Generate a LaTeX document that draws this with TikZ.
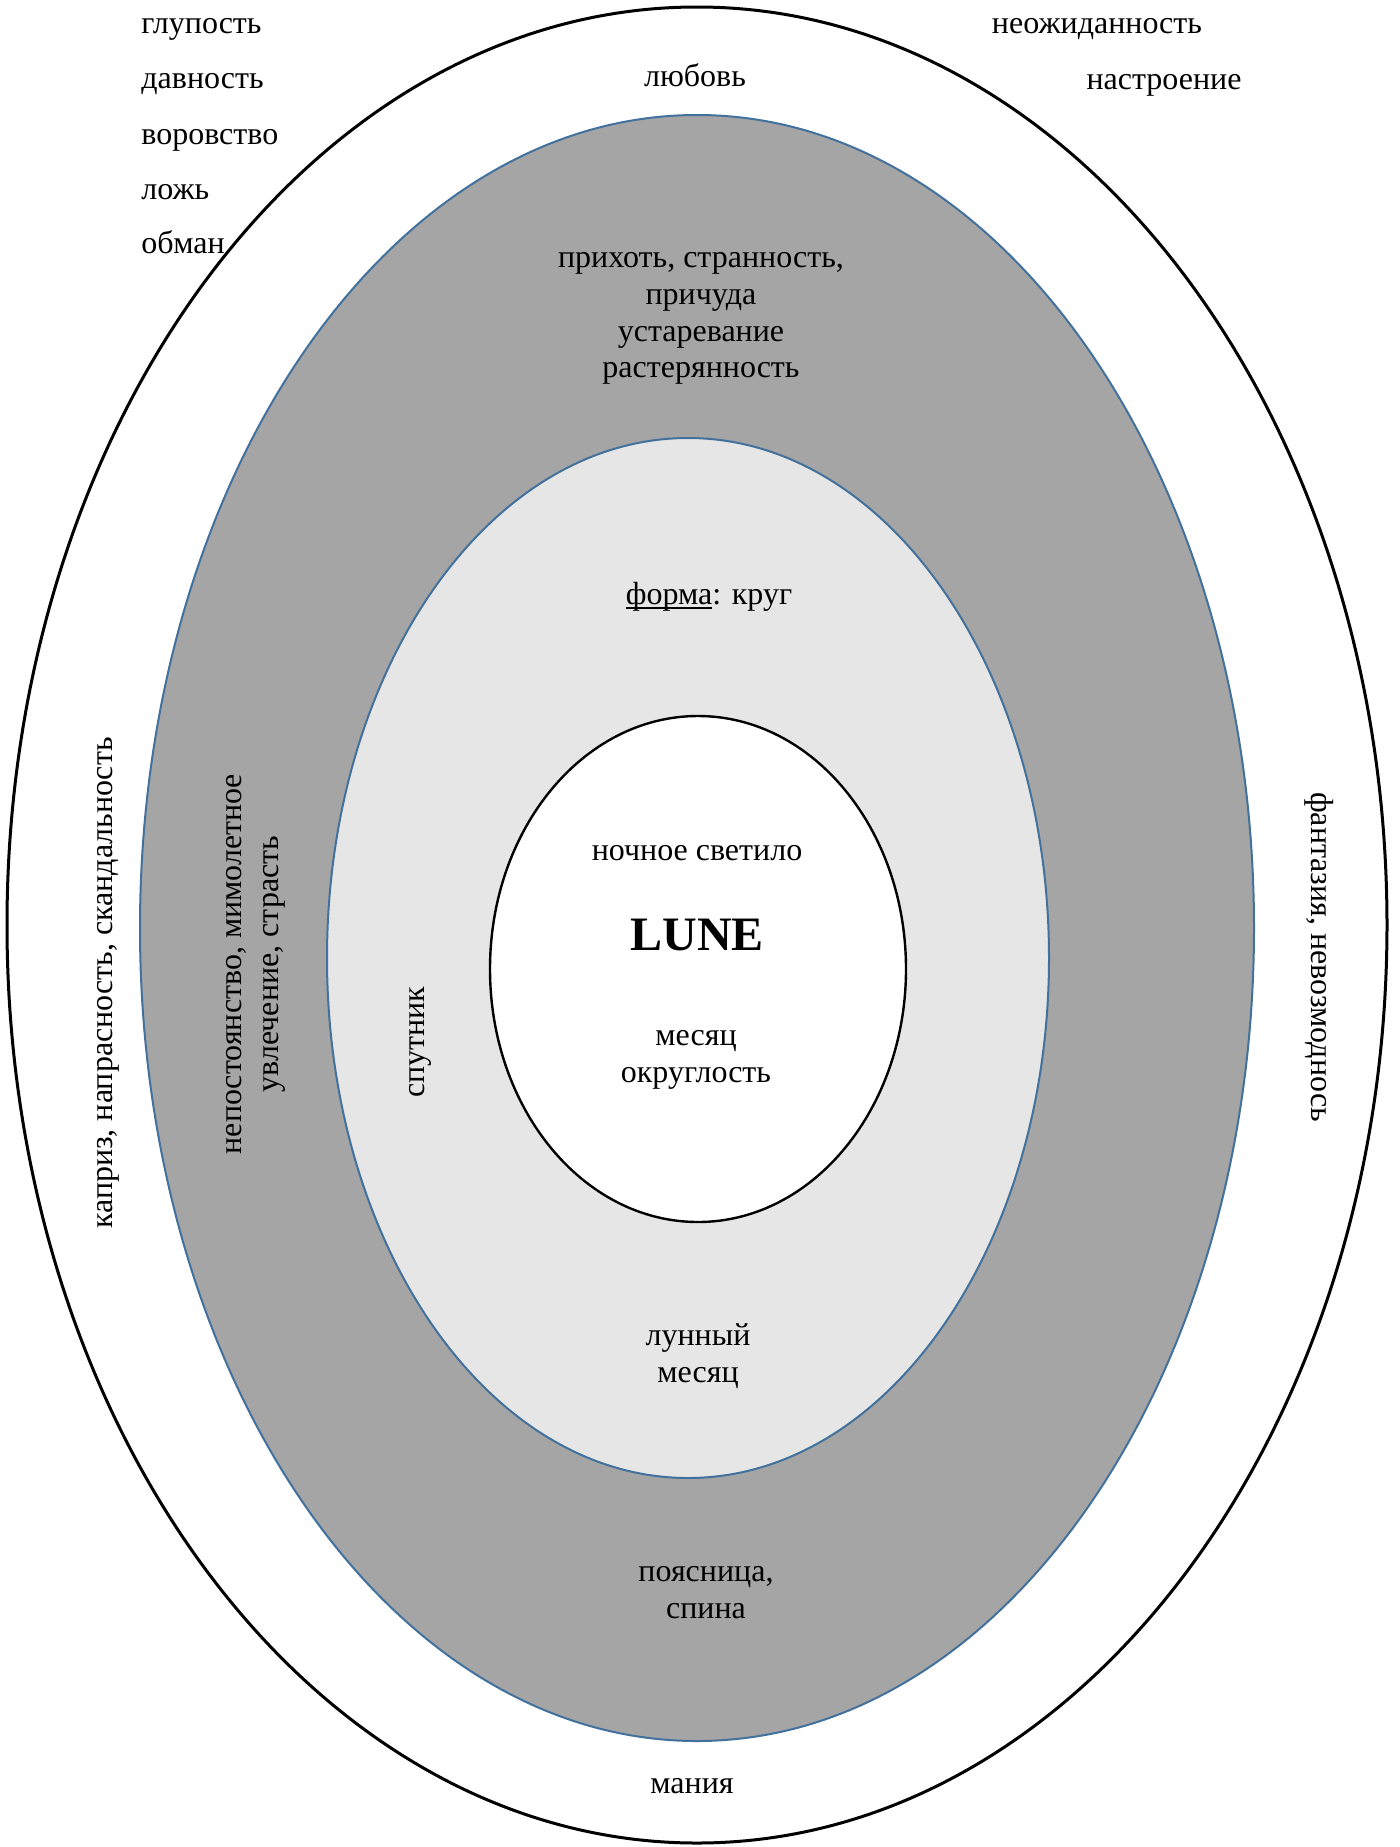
\documentclass[tikz,border=0pt]{standalone}
\usepackage{fontspec}
\setmainfont{Liberation Serif}
\definecolor{ringgray}{HTML}{A5A5A5}
\definecolor{lightring}{HTML}{E6E6E6}
\definecolor{ringblue}{HTML}{41719C}
% underline with a firmer rule, close to the baseline
\newcommand\myul[1]{\setbox0\hbox{#1}\rlap{\rule[-2pt]{\wd0}{1pt}}\box0}
\begin{document}
\begin{tikzpicture}[x=0.5pt,y=-0.5pt,
  lbl/.style={font=\fontsize{16}{18.4}\selectfont, align=center, inner sep=0pt},
  lleft/.style={lbl, anchor=base west},
  title/.style={font=\fontsize{24}{28}\selectfont\bfseries, inner sep=0pt}]
\useasboundingbox (0,0) rectangle (1399,1847);
% concentric rings
\filldraw[draw=black, fill=white, line width=1.5pt] (697,925) ellipse [x radius=345pt, y radius=459pt];
\filldraw[draw=ringblue, fill=ringgray, line width=1pt] (697,928) ellipse [x radius=278.5pt, y radius=406.5pt];
\filldraw[draw=ringblue, fill=lightring, line width=1pt] (688,958) ellipse [x radius=180.5pt, y radius=260pt];
\filldraw[draw=black, fill=white, line width=1.2pt] (698,969) ellipse [x radius=104pt, y radius=126.5pt];

% outer ring words
\node[lleft] (w1) at (141,33) {глупость};
\node[lleft] (w2) at (141,88) {давность};
\node[lleft] (w3) at (141,144) {воровство};
\node[lleft] (w4) at (141,199) {ложь};
\node[lleft] (w5) at (141,253) {обман};
\node[lbl] (neozh) at (1097,29.5) {неожиданность};
\node[lbl] (nastr) at (1164,85) {настроение};
\node[lbl] (lyub) at (695,75.5) {любовь};
\node[lbl] (mania) at (692,1786.5) {мания};
\node[lbl, rotate=90] (kapriz) at (108.5,983) {каприз, напрасность, скандальность};
\node[lbl, rotate=-90] (fant) at (1319,957) {фантазия, невозмоднось};

% gray ring words
\node[lbl] (prih) at (701,318.5) {прихоть, странность,\\причуда\\устаревание\\растерянность};
\node[lbl, rotate=90] (nepost) at (256,964) {непостоянство, мимолетное\\увлечение, страсть};
\node[lbl] (poyas) at (706,1592.5) {поясница,\\спина};

% light ring words
\node[lbl] (forma) at (709,597) {\myul{форма}: круг};
\node[lbl, rotate=90] (sputn) at (420.5,1042) {спутник};
\node[lbl] (lunn) at (698,1356.5) {лунный\\месяц};

% core
\node[lbl] (noch) at (697,853.5) {ночное светило};
\node[title] (lune) at (697,935) {LUNE};
\node[lbl] (mes) at (696,1060) {месяц\\округлость};
\end{tikzpicture}
\end{document}
